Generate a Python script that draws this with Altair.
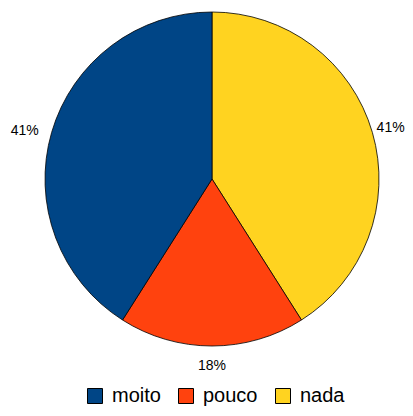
import altair as alt
import pandas as pd

categories = ["nada", "pouco", "moito"]
values = [41, 18, 41]
labels = ["41%", "18%", "41%"]
colors = ["#ffd320", "#ff420e", "#004586"]
legend_order = ["moito", "pouco", "nada"]

df = pd.DataFrame({"cat": categories, "val": values, "label": labels,
                   "order": [0, 1, 2]})

CX, CY = 204, 171

base = alt.Chart(df).encode(
    theta=alt.Theta("val:Q", stack=True),
    order=alt.Order("order:Q"),
)

arcs = base.mark_arc(x=CX, y=CY, outerRadius=167, stroke="black",
                     strokeWidth=0.8).encode(
    color=alt.Color("cat:N",
                    scale=alt.Scale(domain=legend_order,
                                    range=[colors[2], colors[1], colors[0]]),
                    legend=alt.Legend(title=None, orient="none",
                                      direction="horizontal",
                                      legendX=77, legendY=378,
                                      symbolType="square", symbolSize=225,
                                      symbolStrokeColor="black",
                                      symbolStrokeWidth=1,
                                      symbolOpacity=1,
                                      labelFontSize=20,
                                      labelFont="Liberation Sans",
                                      labelColor="black",
                                      labelOffset=7,
                                      columnPadding=15))
)


def label_layer(cat, r, dy):
    return base.mark_text(x=CX, y=CY, radius=r, dy=dy,
                          font="Liberation Sans", fontSize=14,
                          color="black").encode(
        text="label:N",
        opacity=alt.condition(alt.datum.cat == cat, alt.value(1),
                              alt.value(0)),
    )


chart = alt.layer(
    arcs,
    label_layer("nada", 186, 1),
    label_layer("pouco", 182, 5),
    label_layer("moito", 195, 6),
).properties(
    width=397, height=400, autosize=alt.AutoSizeParams(type="none"),
    padding=0
).configure_view(stroke=None)

chart.save("out.html", embed_options={"renderer": "svg", "actions": False})
